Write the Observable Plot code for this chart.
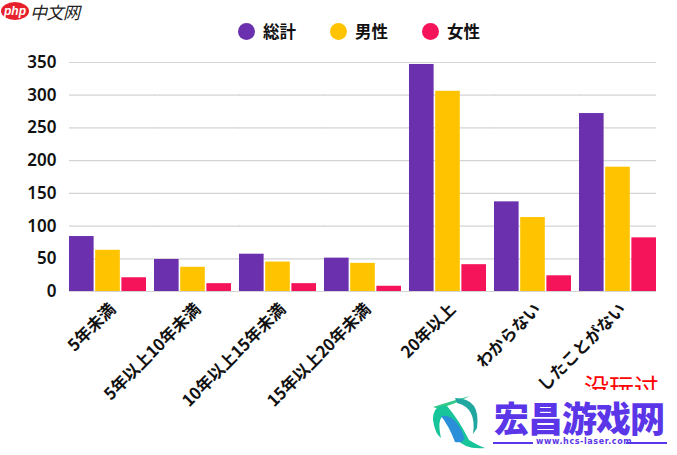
<!DOCTYPE html>
<html lang="ja"><head><meta charset="utf-8">
<script src="https://cdn.jsdelivr.net/npm/d3@7"></script>
<script src="https://cdn.jsdelivr.net/npm/@observablehq/plot@0.6"></script>
<style>
html,body{margin:0;padding:0;background:#fff;width:677px;height:455px;overflow:hidden}
body{position:relative;font-family:"Noto Sans CJK JP","Noto Sans",sans-serif}
#legend{height:50px;position:relative}
.li{position:absolute;top:22px;display:flex;align-items:center;font-size:16.5px;font-weight:700;color:#111;line-height:18px}
.li i{display:inline-block;width:17px;height:17px;border-radius:50%;margin-right:8px}
#chart{height:380px;overflow:hidden}
#chart svg{display:block}
#logo{position:absolute;left:1px;top:0;display:flex;align-items:center;height:22px}
#logo b{background:#e8202c;color:#fff;border-radius:50%;font:italic 700 12px "Liberation Sans";padding:2px 3px;width:22px;text-align:center}
#logo span{font-size:17px;font-style:italic;color:#222;margin-left:1px;letter-spacing:-.5px}
#red{position:absolute;left:584px;top:371px;height:19px;overflow:hidden;color:#f00;font-size:25px;line-height:31px;letter-spacing:0}
#wm{position:absolute;left:425px;top:390px;width:252px;height:65px;background:#fff}
#wm .t{position:absolute;left:69px;top:5px;font-size:35px;font-weight:900;color:#5b36e8;line-height:44px;letter-spacing:-1px}
#wm .u{position:absolute;left:111px;top:47px;font:700 8px "DejaVu Sans",sans-serif;color:#5b36e8;letter-spacing:.6px}
#wm .l{position:absolute;height:2px;background:#5b36e8;top:52px}
</style></head><body>
<div id="logo"><b>php</b><span>中文网</span></div>
<div id="legend"></div>
<div id="chart"></div>
<div id="red">没玩过</div>
<div id="wm">
<svg width="66" height="65" style="position:absolute;left:0;top:0">
<path d="M8 17 Q30 10 45 6 Q30 14 14 19Z" fill="#34c98a"/>
<path d="M30 8 Q56 8 52 38 L48 44 Q52 18 32 13Z" fill="#1fa7a0"/>
<path d="M8 30 Q8 14 22 16 Q34 30 44 50 Q54 56 60 58 Q40 60 30 48 Q22 30 18 26 Q12 30 16 48 Q10 44 8 30Z" fill="#18c49a"/>
<path d="M16 26 Q30 24 38 44 Q42 54 30 52 Q24 36 16 26Z" fill="#2a8fd8"/>
</svg>
<div class="t">宏昌游戏网</div>
<div class="l" style="left:68px;width:40px"></div>
<div class="u">www.hcs-laser.com</div>
<div class="l" style="left:201px;width:41px"></div>
</div>
<script>
const categories = ["5年未満","5年以上10年未満","10年以上15年未満","15年以上20年未満","20年以上","わからない","したことがない"];
const seriesNames = ["総計","男性","女性"];
const seriesColors = ["#6a30ad","#ffc300","#f5135a"];
const totalValues = [84,49,57,51,347,137,272];
const maleValues = [63,37,45,43,306,113,190];
const femaleValues = [21,12,12,8,41,24,82];
const yTicks = [0,50,100,150,200,250,300,350];
const legendLefts = [238,330,422];

const table = categories.flatMap((c,i)=>[totalValues,maleValues,femaleValues].map((v,s)=>({category:c,series:seriesNames[s],value:v[i]})));
const gridRows = categories.flatMap(c=>yTicks.map(t=>({category:c,tick:t})));
const lastCategory = categories[categories.length-1];

const legend = document.getElementById("legend");
seriesNames.forEach((n,i)=>{
  const d=document.createElement("div");d.className="li";d.style.left=legendLefts[i]+"px";
  d.innerHTML=`<i style="background:${seriesColors[i]}"></i>${n}`;legend.appendChild(d);
});

const chart = Plot.plot({
  width:677,height:380,
  marginTop:12,marginBottom:139,marginLeft:69,marginRight:21,
  style:{fontFamily:'"Noto Sans CJK JP","Noto Sans",sans-serif',background:"transparent"},
  fx:{domain:categories,paddingInner:0.094,paddingOuter:0,round:false,label:null},
  x:{domain:seriesNames,paddingInner:0.06,paddingOuter:0,round:false,axis:null},
  y:{domain:[0,350],label:null},
  color:{domain:seriesNames,range:seriesColors},
  marks:[
    Plot.ruleY(gridRows.filter(d=>d.category!==lastCategory),{fx:"category",y:"tick",insetRight:-9,stroke:"#d4d4d4",strokeWidth:1.2}),
    Plot.ruleY(gridRows.filter(d=>d.category===lastCategory),{fx:"category",y:"tick",stroke:"#d4d4d4",strokeWidth:1.2}),
    Plot.axisY(yTicks,{tickSize:0,tickPadding:13,fontSize:17,fontWeight:600,fill:"#111",label:null,fontFamily:'"Noto Sans","Open Sans",sans-serif'}),
    Plot.axisFx({anchor:"bottom",tickSize:0,tickPadding:15,dx:5,tickRotate:-45,fontSize:16.5,fontWeight:700,fill:"#111",label:null,lineWidth:Infinity,textOverflow:null}),
    Plot.barY(table,{fx:"category",x:"series",y:"value",fill:"series"})
  ]
});
document.getElementById("chart").appendChild(chart);
</script>
</body></html>
